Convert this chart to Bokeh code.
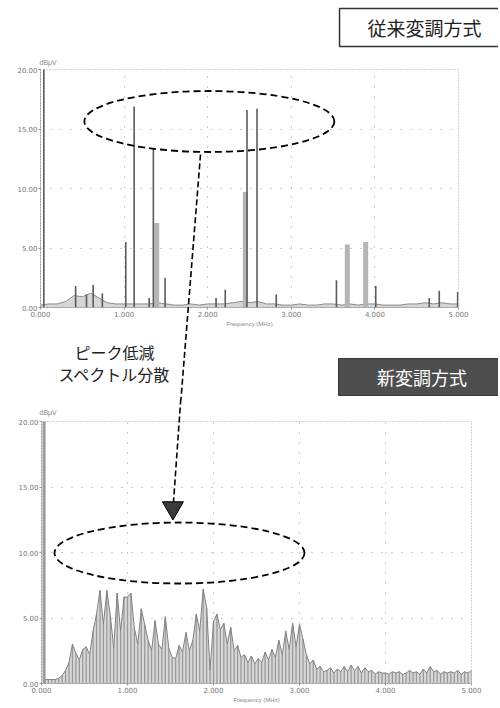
import numpy as np
from bokeh.plotting import figure
from bokeh.layouts import column, row
from bokeh.models import Range1d, FixedTicker, NumeralTickFormatter
from bokeh.core.properties import value
from bokeh.embed import file_html
from bokeh.resources import INLINE

# ---------------- data ----------------
# Top: conventional modulation  (frequency MHz, level)
top_sharp_freq = [0.04, 0.42, 0.55, 0.63, 0.74, 1.02, 1.12, 1.30, 1.35, 1.49,
                  2.10, 2.21, 2.47, 2.59, 2.82, 3.54, 4.01, 4.65, 4.77, 4.99]
top_sharp_value = [25.0, 1.8, 1.1, 1.9, 1.2, 5.5, 16.9, 0.8, 13.4, 2.5,
                   0.8, 1.5, 16.6, 16.7, 1.1, 2.3, 1.8, 0.8, 1.4, 1.3]
top_broad_freq = [1.39, 2.45, 3.67, 3.89]
top_broad_value = [7.1, 9.7, 5.3, 5.5]
top_floor_freq = [round(0.1 * i, 1) for i in range(51)]
top_floor_value = [0.2, 0.3, 0.3, 0.5, 1.0, 0.9, 1.2, 0.8, 0.4, 0.3,
                   0.3, 0.3, 0.3, 0.3, 0.4, 0.3, 0.2, 0.2, 0.3, 0.2,
                   0.3, 0.3, 0.3, 0.4, 0.5, 0.4, 0.5, 0.3, 0.3, 0.2,
                   0.2, 0.3, 0.2, 0.2, 0.3, 0.3, 0.2, 0.3, 0.2, 0.3,
                   0.3, 0.2, 0.2, 0.2, 0.3, 0.3, 0.4, 0.3, 0.4, 0.3, 0.3]

# Bottom: new modulation (spread spectrum)
bottom_dc_freq = [0.03]
bottom_dc_value = [25.0]
bottom_freq = [round(0.04 * i, 2) for i in range(1, 126)]
bottom_value = [0.3, 0.3, 0.3, 0.3, 0.4, 0.6, 1.0, 1.6, 3.0, 2.3,
                1.8, 2.6, 2.8, 2.2, 4.0, 5.3, 7.1, 4.5, 7.1, 5.2,
                2.7, 6.9, 4.0, 6.6, 6.6, 6.9, 4.2, 3.0, 5.7, 4.5,
                3.3, 2.5, 4.8, 3.0, 2.6, 5.1, 2.7, 2.0, 1.9, 2.9,
                2.4, 3.9, 2.5, 3.3, 5.3, 4.0, 7.2, 5.8, 1.0, 4.7,
                5.3, 4.1, 4.6, 3.0, 4.3, 2.5, 2.9, 2.0, 2.2, 1.6,
                2.1, 1.5, 1.9, 1.6, 2.4, 1.8, 2.6, 2.0, 3.3, 2.2,
                4.0, 2.6, 4.6, 2.8, 4.5, 3.4, 2.2, 1.5, 1.8, 1.1,
                1.3, 0.9, 1.0, 1.2, 0.8, 1.1, 0.9, 1.3, 0.9, 1.4,
                1.0, 1.3, 0.8, 1.2, 0.9, 1.0, 0.7, 0.9, 0.8, 0.8,
                0.7, 0.9, 0.8, 0.9, 0.7, 0.8, 1.0, 0.8, 0.9, 0.7,
                1.1, 0.8, 1.3, 0.9, 1.0, 0.7, 0.9, 0.8, 0.9, 0.8,
                1.0, 0.7, 0.9, 0.8, 1.0]

x_ticks = [0, 1, 2, 3, 4, 5]
y_ticks = [0, 5, 10, 15, 20]
x_title = "Frequency (MHz)"
y_title = "dBμV"
title_old = "従来変調方式"
title_new = "新変調方式"
note_lines = ["ピーク低減", "スペクトル分散"]

JP = "Noto Sans CJK JP"
GRAY = "#8a8a8a"


def style(p):
    p.xaxis.ticker = FixedTicker(ticks=x_ticks)
    p.yaxis.ticker = FixedTicker(ticks=y_ticks)
    p.xaxis.formatter = NumeralTickFormatter(format="0.000")
    p.yaxis.formatter = NumeralTickFormatter(format="0.00")
    for ax in (p.xaxis[0], p.yaxis[0]):
        ax.axis_line_color = "#999999"
        ax.axis_line_dash = "2 1"
        ax.major_tick_line_color = "#999999"
        ax.minor_tick_line_color = None
        ax.major_tick_out = 2
        ax.major_tick_in = 0
        ax.major_label_text_font_size = "7px"
        ax.major_label_text_color = "#777777"
        ax.major_label_standoff = 1
        ax.major_label_text_font = "DejaVu Sans"
    p.xaxis.axis_label = x_title
    p.xaxis.axis_label_text_font_size = "6px"
    p.xaxis.axis_label_text_font_style = "normal"
    p.xaxis.axis_label_text_color = "#888888"
    p.xaxis.axis_label_standoff = 1
    p.grid.grid_line_color = "#9a9a9a"
    p.grid.grid_line_dash = "1 9"
    p.outline_line_color = "#aaaaaa"
    p.outline_line_dash = "1 2"
    p.background_fill_color = "white"
    p.border_fill_color = "white"


def txt(p, x, y, s, size, color, align="center"):
    p.text(x=[x], y=[y], text=[s], text_font=value(JP), text_font_size=value(size),
           text_color=color, text_align=align, text_baseline="middle", level="overlay")


# ---------------- top chart ----------------
p1 = figure(width=498, height=400, x_range=Range1d(0, 5), y_range=Range1d(0, 20),
            output_backend="svg", toolbar_location=None,
            min_border_left=40, min_border_right=40, min_border_top=69, min_border_bottom=93)
style(p1)

p1.varea(x=top_floor_freq, y1=0, y2=top_floor_value, fill_color="#bbbbbb", fill_alpha=0.6)
p1.line(top_floor_freq, top_floor_value, line_color=GRAY, line_width=1)
p1.segment(x0=top_broad_freq, y0=0, x1=top_broad_freq, y1=top_broad_value,
           line_color="#b5b5b5", line_width=5)
p1.segment(x0=top_sharp_freq, y0=0, x1=top_sharp_freq, y1=top_sharp_value,
           line_color="#5a5a5a", line_width=1.6)

# dashed ellipse around the tall peaks
p1.ellipse(x=[2.02], y=[15.63], width=250, height=61, width_units="screen", height_units="screen",
           fill_color=None, line_color="black", line_width=1.8, line_dash="7 4")

# axis unit above the y axis
p1.text(x=[-0.012], y=[20.59], text=[y_title], text_font_size=value("7px"), text_color="#888888",
        text_align="left", text_baseline="middle", level="overlay")

# boxed title (conventional)
p1.quad(left=[3.577], right=[5.6], top=[25.13], bottom=[21.93], fill_color="white",
        line_color="#333333", line_width=1.5, level="overlay")
txt(p1, 4.593, 23.53, title_old, "19px", "#222222")

# note text between the charts
txt(p1, 0.885, -3.70, note_lines[0], "16px", "#222222")
txt(p1, 0.885, -5.63, note_lines[1], "16px", "#222222")

# dark boxed title (new)
p1.quad(left=[3.565], right=[5.6], top=[-4.29], bottom=[-7.39], fill_color="#4e4e4e",
        line_color="#333333", line_width=1, level="overlay")
txt(p1, 4.563, -5.88, title_new, "18px", "white")

# dashed connector (upper part)
p1.segment(x0=[1.914], y0=[12.86], x1=[1.678], y1=[-7.9], line_color="black",
           line_width=1.6, line_dash="6 3", level="overlay")

# ---------------- bottom chart ----------------
p2 = figure(width=498, height=305, x_range=Range1d(0, 5), y_range=Range1d(0, 20),
            output_backend="svg", toolbar_location=None,
            min_border_left=41, min_border_right=27, min_border_top=21, min_border_bottom=20)
style(p2)

p2.varea(x=bottom_freq, y1=0, y2=bottom_value, fill_color="#b8b8b8", fill_alpha=0.55)
p2.segment(x0=bottom_freq, y0=0, x1=bottom_freq, y1=bottom_value, line_color="#9a9a9a", line_width=1.3)
p2.line(bottom_freq, bottom_value, line_color="#808080", line_width=1)
p2.segment(x0=bottom_dc_freq, y0=0, x1=bottom_dc_freq, y1=bottom_dc_value,
           line_color="#9a9a9a", line_width=3)

p2.ellipse(x=[1.605], y=[9.96], width=250, height=61, width_units="screen", height_units="screen",
           fill_color=None, line_color="black", line_width=1.8, line_dash="7 4")

p2.text(x=[-0.023], y=[20.69], text=[y_title], text_font_size=value("7px"), text_color="#888888",
        text_align="left", text_baseline="middle", level="overlay")

# dashed connector (lower part) with arrow head
p2.segment(x0=[1.62], y0=[21.75], x1=[1.535], y1=[13.87], line_color="black",
           line_width=1.6, line_dash="6 3", level="overlay")
p2.scatter(x=[1.528], y=[13.41], marker="inverted_triangle", size=21,
           fill_color="#3a3a3a", line_color="black", line_width=1, level="overlay")

layout = column(row(p1), row(p2))
open("out.html", "w").write(file_html(layout, INLINE))
